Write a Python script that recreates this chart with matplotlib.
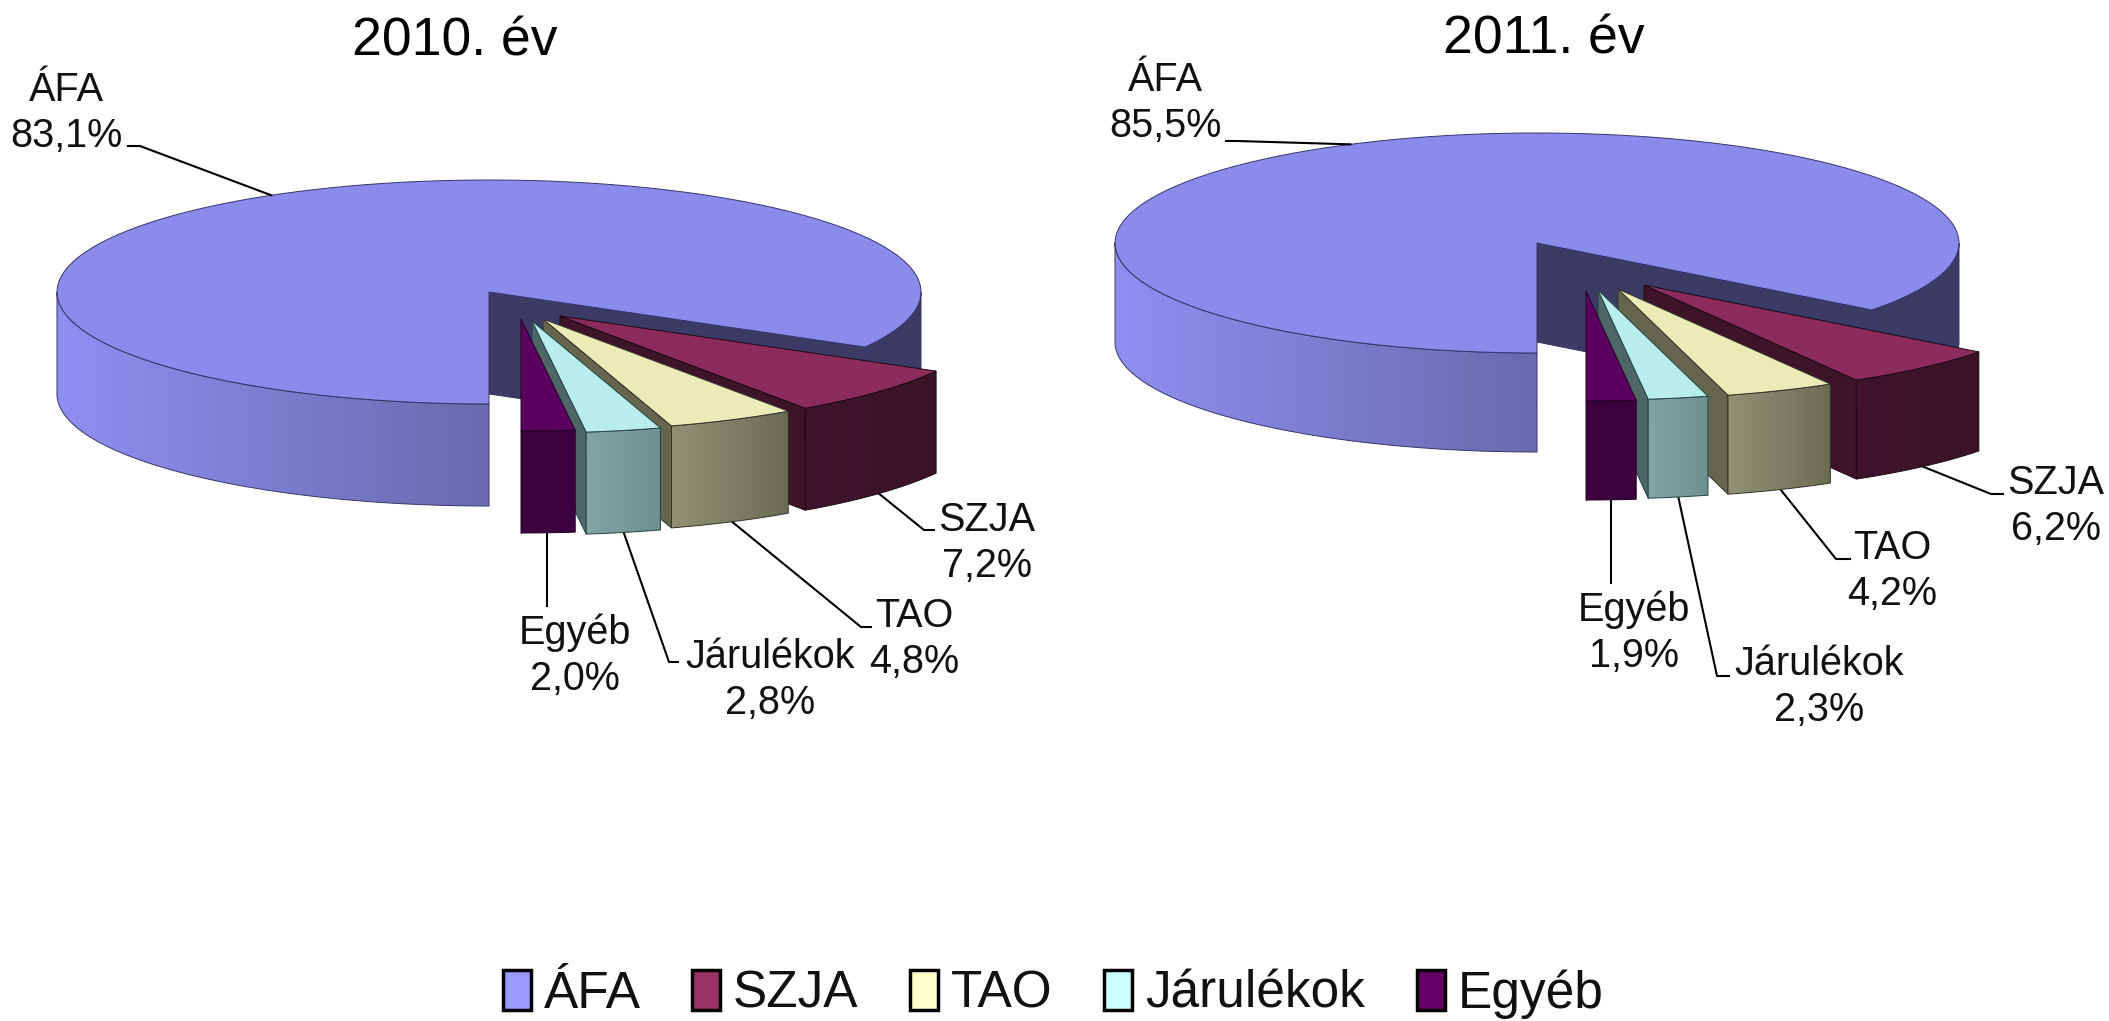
import numpy as np
import matplotlib
matplotlib.use("Agg")
import matplotlib.pyplot as plt
from matplotlib.patches import Polygon, Patch

plt.rcParams["font.family"] = ["Liberation Sans", "DejaVu Sans"]

# data
categories = ["ÁFA", "SZJA", "TAO", "Járulékok", "Egyéb"]
values_2010 = [83.1, 7.2, 4.8, 2.8, 2.0]
values_2011 = [85.5, 6.2, 4.2, 2.3, 1.9]

# colours: top face, cut face, wall left/right, outline
legend_colors = ["#9999ff", "#993366", "#ffffcc", "#ccffff", "#660066"]
top_colors = ["#8b8bec", "#8c2c5c", "#ecebb8", "#b8eced", "#5c0060"]
side_colors = ["#3b3b66", "#3d1428", "#66664e", "#4f6669", "#3c003f"]
wall_colors = [("#8f8ff2", "#6a6aae"), ("#40152b", "#3a1426"), ("#919274", "#6b6c54"),
               ("#84a4a4", "#6f9091"), ("#3c003f", "#3c003f")]
edge_colors = ["#35356a", "#1e0a14", "#33332a", "#234444", "#200022"]

# layout in pixels, one dict per pie
pie_2010 = dict(title="2010. év", title_xy=(455, 42), cx=489, cy=292, rx=432, ry=112, depth=102,
                offsets=[(0, 0), (71, 24), (54, 27), (43, 29), (32, 27)],
                labels=[(66, 113), (987, 543), (914, 639), (770, 680), (575, 656)],
                elbows=[(140, 146), (924, 530), (861, 627), (669, 662), (547, 606)],
                ends=[(128, 146), (934, 530), (871, 627), (678, 662), None])
pie_2011 = dict(title="2011. év", title_xy=(1544, 40), cx=1537, cy=243, rx=422, ry=110, depth=99,
                offsets=[(0, 0), (107, 42), (81, 46), (61, 47), (49, 48)],
                labels=[(1165, 103), (2056, 506), (1892, 571), (1819, 687), (1634, 633)],
                elbows=[(1237, 141), (1991, 494), (1836, 559), (1717, 676), (1611, 583)],
                ends=[(1226, 141), (2003, 494), (1850, 559), (1729, 676), None])


def arc(cx, cy, rx, ry, t0, t1, n=120):
    t = np.radians(np.linspace(t0, t1, n))
    return np.column_stack([cx + rx * np.cos(t), cy - ry * np.sin(t)])


def shade(a, b, x0, x1, y0, y1, clip, z):
    """horizontal gradient between two colours, clipped to a patch"""
    c = np.linspace(matplotlib.colors.to_rgb(a), matplotlib.colors.to_rgb(b), 256)
    im = ax.imshow(c[None, :, :], extent=(x0, x1, y1, y0), aspect="auto",
                   interpolation="bilinear", zorder=z)
    im.set_clip_path(clip)


def wall(cx, cy, rx, ry, d, t0, t1, colors, edge, z):
    top = arc(cx, cy, rx, ry, t0, t1)
    pts = np.vstack([top, top[::-1] + [0, d]])
    p = Polygon(pts, closed=True, fc="none", ec=edge, lw=0.7, zorder=z + 0.1)
    ax.add_patch(p)
    shade(colors[0], colors[1], pts[:, 0].min(), pts[:, 0].max(),
          pts[:, 1].min(), pts[:, 1].max(), p, z)


def side(x, y, corner, d, color, edge, z):
    ax.add_patch(Polygon([(x, y), corner, (corner[0], corner[1] + d), (x, y + d)],
                         closed=True, fc=color, ec=edge, lw=0.7, zorder=z))


def top_face(x, y, rx, ry, t0, t1, color, edge, z):
    pts = np.vstack([[(x, y)], arc(x, y, rx, ry, t0, t1)])
    ax.add_patch(Polygon(pts, closed=True, fc=color, ec=edge, lw=0.7, zorder=z))


def draw_pie(values, s):
    cx, cy, rx, ry, d = s["cx"], s["cy"], s["rx"], s["ry"], s["depth"]
    shares = np.array(values) / sum(values) * 360
    # slices run clockwise from 6 o'clock
    edges = 270 - np.concatenate([[0], np.cumsum(shares)])

    for i, name in enumerate(categories):
        t0, t1 = edges[i + 1], edges[i]  # t0 < t1
        ox, oy = s["offsets"][i]
        x, y = cx + ox, cy + oy
        z = 2 + i * 2
        ec = edge_colors[i]
        corner = arc(x, y, rx, ry, t0, t0, 1)[0]
        if i == 0:
            # t0 is below zero: rear wall part on the right, front part on the left
            wall(x, y, rx, ry, d, t0, 0, (side_colors[0], side_colors[0]), ec, z)
            side(x, y, corner, d, side_colors[0], ec, z + 0.2)
            wall(x, y, rx, ry, d, 180, 270, wall_colors[0], ec, z + 0.3)
        else:
            side(x, y, corner, d, side_colors[i], ec, z)
            wall(x, y, rx, ry, d, t0, t1, wall_colors[i], ec, z + 0.3)
        top_face(x, y, rx, ry, t0, t1, top_colors[i], ec, z + 0.6)

        # leader from the middle of the slice's outer edge, to the label
        mid = (t0 + t1) / 2
        p = arc(x, y, rx, ry, mid, mid, 1)[0]
        if i > 0:
            p = p + [0, d]
        if s["ends"][i] is None:
            p[0] = s["elbows"][i][0]  # Egyéb has a plain vertical leader
        line = [p, s["elbows"][i]]
        if s["ends"][i] is not None:
            line.append(s["ends"][i])
        line = np.array(line)
        ax.plot(line[:, 0], line[:, 1], color="black", lw=1.5, zorder=1 if i > 0 else 20)

        lx, ly = s["labels"][i]
        ax.text(lx, ly, f"{name}\n{values[i]:.1f}%".replace(".", ","), ha="center", va="center",
                fontsize=28.5, linespacing=1.27, color="#111111", zorder=30)

    ax.text(*s["title_xy"], s["title"], ha="center", va="center", fontsize=38.5, color="black")


fig = plt.figure(figsize=(21.09, 10.21), dpi=100)
ax = fig.add_axes([0, 0, 1, 1])

draw_pie(values_2010, pie_2010)
draw_pie(values_2011, pie_2011)

ax.set_xlim(0, 2109)
ax.set_ylim(1021, 0)
ax.axis("off")

handles = [Patch(fc=c, ec="black", lw=2.5) for c in legend_colors]
ax.legend(handles, categories, ncol=5, loc="center", bbox_to_anchor=(1053 / 2109, 1 - 994 / 1021),
          frameon=False, fontsize=37, handlelength=0.55, handleheight=0.8,
          handletextpad=0.25, columnspacing=1.0, labelcolor="#111111")

fig.savefig("out.png", dpi=100, facecolor="white")
